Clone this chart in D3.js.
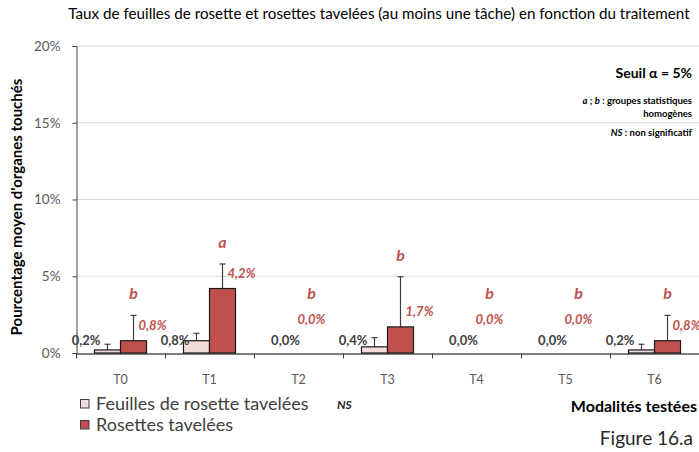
<!DOCTYPE html>
<html>
<head>
<meta charset="utf-8">
<script src="https://cdn.jsdelivr.net/npm/d3@7"></script>
<style>
  body { margin: 0; background: #fff; }
  text { font-family: Lato, "Liberation Sans", sans-serif; }
</style>
</head>
<body>
<svg id="chart" width="699" height="452"></svg>
<script>
// ── Data ──
const categories = ["T0", "T1", "T2", "T3", "T4", "T5", "T6"];
const seriesNames = ["Feuilles de rosette tavelées", "Rosettes tavelées"];
const feuilles = [0.002, 0.008, 0, 0.004, 0, 0, 0.002];
const rosettes = [0.008, 0.042, 0, 0.017, 0, 0, 0.008];
// upper error bar lengths
const feuillesErr = [0.0037, 0.0048, 0, 0.006, 0, 0, 0.0037];
const rosettesErr = [0.0165, 0.016, 0, 0.0327, 0, 0, 0.0165];
const groupLetters = ["b", "a", "b", "b", "b", "b", "b"];
const yTicks = [0, 0.05, 0.10, 0.15, 0.20];

const fillColors = ["#F2DCDB", "#C0504D"];
const red = "#C0504D";

const svg = d3.select("#chart");

// ── Scales ──
const x = d3.scaleBand().domain(categories).range([76, 699]);
const xSub = d3.scaleBand().domain([0, 1]).range([0, x.bandwidth()]).paddingOuter(0.71);
const y = d3.scaleLinear().domain([0, 0.20]).range([353, 46]);
const fmt = v => d3.format(".1%")(v).replace(".", ",");

// ── Subtitle ──
svg.append("text")
  .attr("x", 379).attr("y", 19)
  .attr("text-anchor", "middle")
  .attr("font-size", 15.2)
  .attr("fill", "#000")
  .text("Taux de feuilles de rosette et rosettes tavelées (au moins une tâche) en fonction du traitement");

// ── Gridlines + y axis ──
svg.append("g")
  .selectAll("line")
  .data(yTicks.filter(d => d > 0))
  .join("line")
  .attr("x1", 76).attr("x2", 699)
  .attr("y1", d => y(d)).attr("y2", d => y(d))
  .attr("stroke", "#D9D9D9").attr("stroke-width", 1);

const yAxis = svg.append("g")
  .attr("transform", "translate(76.5,0)")
  .call(d3.axisLeft(y).tickValues(yTicks).tickFormat(d3.format(".0%")).tickSize(4).tickPadding(12));
yAxis.select(".domain").attr("stroke", "#404040");
yAxis.selectAll(".tick line").attr("stroke", "#404040");
yAxis.selectAll(".tick text")
  .attr("font-size", 13.5).attr("fill", "#595959")
  .attr("font-family", "Lato, sans-serif");

svg.append("text")
  .attr("transform", "translate(22,207) rotate(-90)")
  .attr("text-anchor", "middle")
  .attr("font-size", 15).attr("font-weight", "bold")
  .attr("fill", "#000")
  .text("Pourcentage moyen d'organes touchés");

// ── Bars ──
const rows = categories.map((c, i) => ({
  cat: c,
  vals: [feuilles[i], rosettes[i]],
  errs: [feuillesErr[i], rosettesErr[i]],
  letter: groupLetters[i]
}));

const groups = svg.append("g")
  .selectAll("g")
  .data(rows)
  .join("g")
  .attr("transform", d => `translate(${x(d.cat)},0)`);

// error bars (upper only)
[0, 1].forEach(s => {
  const cx = xSub(s) + xSub.bandwidth() / 2;
  const eb = groups.filter(d => d.errs[s] > 0).append("g");
  eb.append("line")
    .attr("x1", cx).attr("x2", cx)
    .attr("y1", d => y(d.vals[s])).attr("y2", d => y(d.vals[s] + d.errs[s]))
    .attr("stroke", "#404040").attr("stroke-width", 1.2);
  eb.append("line")
    .attr("x1", cx - 3).attr("x2", cx + 3)
    .attr("y1", d => y(d.vals[s] + d.errs[s])).attr("y2", d => y(d.vals[s] + d.errs[s]))
    .attr("stroke", "#404040").attr("stroke-width", 1.2);
});

[0, 1].forEach(s => {
  groups.filter(d => d.vals[s] > 0).append("rect")
    .attr("x", xSub(s))
    .attr("width", xSub.bandwidth())
    .attr("y", d => y(d.vals[s]))
    .attr("height", d => y(0) - y(d.vals[s]))
    .attr("fill", fillColors[s])
    .attr("stroke", "#1a1a1a").attr("stroke-width", 1.2);
});

// light series labels
groups.append("text")
  .attr("x", d => d.vals[0] > 0 ? xSub(0) + 6 : xSub(0) + xSub.bandwidth() / 2)
  .attr("y", y(0) - 8)
  .attr("text-anchor", d => d.vals[0] > 0 ? "end" : "middle")
  .attr("font-size", 13).attr("font-weight", "bold")
  .attr("fill", "#404040")
  .text(d => fmt(d.vals[0]));

// dark series labels
groups.append("text")
  .attr("x", d => d.vals[1] > 0 ? xSub(1) + xSub.bandwidth() / 2 + 5 : xSub(1) + xSub.bandwidth() / 2)
  .attr("y", d => d.vals[1] > 0 ? y(d.vals[1]) - 11 : y(0) - 29)
  .attr("text-anchor", d => d.vals[1] > 0 ? "start" : "middle")
  .attr("font-size", 13).attr("font-weight", "bold").attr("font-style", "italic")
  .attr("fill", red)
  .text(d => fmt(d.vals[1]));

// group letters
groups.append("text")
  .attr("x", xSub(1) + xSub.bandwidth() / 2)
  .attr("y", d => Math.min(y(d.vals[1] + d.errs[1]), y(0) - 38) - 16)
  .attr("text-anchor", "middle")
  .attr("font-size", 16).attr("font-weight", "bold").attr("font-style", "italic")
  .attr("fill", red)
  .text(d => d.letter);

// ── X axis ──
const xAxis = svg.append("g")
  .attr("transform", `translate(0,${y(0) + 0.5})`)
  .call(d3.axisBottom(x).tickSize(0).tickPadding(22));
xAxis.select(".domain").attr("stroke", "#000").attr("stroke-width", 1.2);
xAxis.selectAll(".tick text")
  .attr("font-size", 12.5).attr("fill", "#595959")
  .attr("font-family", "Lato, sans-serif");
xAxis.append("g")
  .selectAll("line")
  .data(categories)
  .join("line")
  .attr("x1", d => x(d) + 0.5).attr("x2", d => x(d) + 0.5)
  .attr("y1", 0).attr("y2", 5)
  .attr("stroke", "#404040");

// ── Legend ──
const legend = svg.append("g").attr("transform", "translate(80,394)");
seriesNames.forEach((name, i) => {
  const row = legend.append("g").attr("transform", `translate(0,${i * 21})`);
  row.append("rect")
    .attr("x", 0.5).attr("y", 5.5).attr("width", 8.5).attr("height", 8.5)
    .attr("fill", fillColors[i]).attr("stroke", "#404040");
  row.append("text")
    .attr("x", 16).attr("y", 15.5)
    .attr("font-size", 18).attr("fill", "#404040")
    .text(name);
});

svg.append("text")
  .attr("x", 337).attr("y", 409)
  .attr("font-size", 12).attr("font-weight", "bold").attr("font-style", "italic")
  .attr("fill", "#262626")
  .text("NS");

svg.append("text")
  .attr("x", 697).attr("y", 412)
  .attr("text-anchor", "end")
  .attr("font-size", 16).attr("font-weight", "bold")
  .attr("fill", "#000")
  .text("Modalités testées");

svg.append("text")
  .attr("x", 693).attr("y", 445)
  .attr("text-anchor", "end")
  .attr("font-size", 19)
  .attr("fill", "#262626")
  .text("Figure 16.a");

// ── Statistical note ──
const note = svg.append("g").attr("text-anchor", "end").attr("font-weight", "bold").attr("fill", "#000");
note.append("text").attr("x", 692).attr("y", 78).attr("font-size", 14).text("Seuil α = 5%");
const l1 = note.append("text").attr("x", 692).attr("y", 104).attr("font-size", 9.5);
l1.append("tspan").attr("font-style", "italic").text("a");
l1.append("tspan").text(" ; ");
l1.append("tspan").attr("font-style", "italic").text("b");
l1.append("tspan").text(" : groupes statistiques");
note.append("text").attr("x", 692).attr("y", 117).attr("font-size", 9.5).text("homogènes");
const l3 = note.append("text").attr("x", 692).attr("y", 136).attr("font-size", 9.5);
l3.append("tspan").attr("font-style", "italic").text("NS");
l3.append("tspan").text(" : non significatif");
</script>
</body>
</html>
